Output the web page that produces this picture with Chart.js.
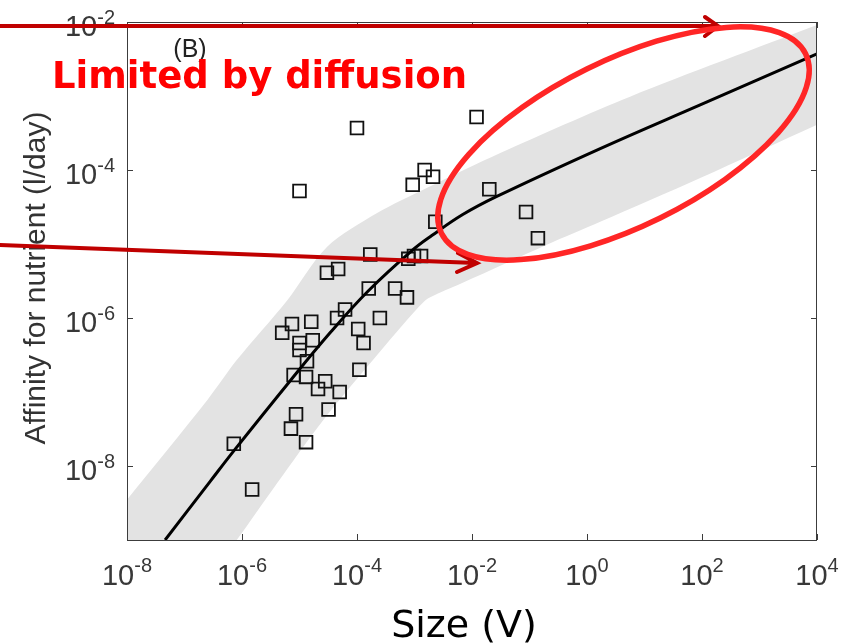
<!DOCTYPE html>
<html lang="en">
<head>
    <meta charset="UTF-8">
    <title>Affinity for nutrient vs size</title>
    <script src="https://cdn.jsdelivr.net/npm/chart.js"></script>
    <style>
        body { margin: 0; background: #fff; }
        .wrap { width: 851px; height: 643px; position: relative; }
    </style>
</head>
<body>
    <div class="wrap">
        <canvas id="affinityChart"></canvas>
    </div>

    <script>
        // tick decades (exponents of 10)
        const xTickExps = [-8, -6, -4, -2, 0, 2, 4];
        const yTickExps = [-8, -6, -4, -2];

        // observed species: size V and affinity (l/day)
        const sizeV = [1.0e-4, 1.2e-2, 1.0e-5, 1.5e-3, 2.1e-3, 9.3e-4, 2.0e-2, 8.7e-2, 0.14, 2.3e-3,
            1.7e-4, 7.8e-4, 9.8e-4, 1.3e-3, 3.0e-5, 4.7e-5, 1.6e-4, 4.6e-4, 7.4e-4, 2.5e-4,
            6.2e-5, 4.5e-5, 1.05e-4, 1.3e-4, 1.6e-5, 7.4e-6, 5.0e-6, 1.7e-5, 1.0e-5, 1.0e-5,
            1.35e-5, 7.9e-6, 1.3e-5, 1.1e-4, 2.8e-5, 2.1e-5, 5.0e-5, 3.2e-5, 8.7e-6, 7.1e-6,
            1.3e-5, 7.2e-7, 1.5e-6];
        const affinity = [3.7e-4, 5.2e-4, 5.2e-5, 1.0e-4, 8.1e-5, 6.3e-5, 5.5e-5, 2.7e-5, 1.2e-5, 2.0e-5,
            7.2e-6, 6.3e-6, 6.9e-6, 6.9e-6, 4.1e-6, 4.6e-6, 2.5e-6, 2.5e-6, 1.9e-6, 1.0e-6,
            1.3e-6, 1.0e-6, 7.1e-7, 4.6e-7, 8.9e-7, 8.3e-7, 6.3e-7, 5.0e-7, 4.6e-7, 3.7e-7,
            2.6e-7, 1.7e-7, 1.6e-7, 2.0e-7, 1.4e-7, 1.1e-7, 1.0e-7, 5.8e-8, 5.0e-8, 3.2e-8,
            2.1e-8, 2.0e-8, 4.8e-9];

        // model curve
        const curveV = [4.6e-8, 2.8e-7, 7.2e-7, 6.8e-6, 3.4e-5, 1.55e-4, 9.3e-4, 2.0e-3, 6.9e-3, 2.7e-2, 1.7, 93, 1e4];
        const curveA = [1.0e-9, 6.2e-9, 1.6e-8, 1.4e-7, 6.3e-7, 2.3e-6, 8.3e-6, 1.3e-5, 2.5e-5, 4.4e-5, 1.95e-4, 7.6e-4, 3.7e-3];

        // grey band around the model
        const bandUpV = [1e-8, 2.5e-7, 8.1e-7, 6.0e-6, 3.0e-5, 2.2e-4, 1.7e-3, 3.1e-2, 5.6, 1e4];
        const bandUpA = [3.5e-9, 7.8e-8, 2.7e-7, 1.7e-6, 9.1e-6, 2.6e-5, 5.8e-5, 1.7e-4, 9.8e-4, 9.1e-3];
        const bandLoV = [1e-8, 8.1e-7, 4.1e-6, 2.6e-5, 2.5e-4, 1.5e-3, 2.75e-3, 6.9e-3, 0.2, 1.7, 93, 1e4];
        const bandLoA = [1e-11, 1e-9, 5.9e-9, 4.2e-8, 3.5e-7, 1.7e-6, 2.2e-6, 3.0e-6, 9.8e-6, 2.0e-5, 7.8e-5, 4.1e-4];

        const pts = (xs, ys) => xs.map((v, i) => ({ x: v, y: ys[i] }));

        // frame, inward ticks, 10^n labels, titles and the red annotations
        const decor = {
            id: 'decor',
            afterDraw(chart) {
                const { ctx, chartArea: a, scales: { x, y } } = chart;
                ctx.save();
                ctx.strokeStyle = '#3c3c3c';
                ctx.lineWidth = 1;
                ctx.strokeRect(a.left + 0.5, a.top + 0.5, a.right - a.left - 1, a.bottom - a.top);

                ctx.beginPath();
                x.ticks.forEach(t => {
                    const px = Math.round(x.getPixelForValue(t.value)) + 0.5;
                    ctx.moveTo(px, a.bottom); ctx.lineTo(px, a.bottom - 6);
                    ctx.moveTo(px, a.top); ctx.lineTo(px, a.top + 6);
                });
                y.ticks.forEach(t => {
                    const py = Math.round(y.getPixelForValue(t.value)) + 0.5;
                    ctx.moveTo(a.left, py); ctx.lineTo(a.left + 6, py);
                    ctx.moveTo(a.right, py); ctx.lineTo(a.right - 6, py);
                });
                ctx.stroke();

                // tick labels with raised exponents
                const baseFont = '29px "Liberation Sans", Arial, sans-serif';
                const supFont = '20px "Liberation Sans", Arial, sans-serif';
                ctx.fillStyle = '#383838';
                ctx.textBaseline = 'alphabetic';
                ctx.textAlign = 'left';
                x.ticks.forEach(t => {
                    const px = x.getPixelForValue(t.value);
                    const sup = String(Math.round(Math.log10(t.value)));
                    ctx.font = baseFont; const wb = ctx.measureText('10').width;
                    ctx.font = supFont; const ws = ctx.measureText(sup).width;
                    const x0 = px - (wb + ws) / 2;
                    ctx.font = baseFont; ctx.fillText('10', x0, a.bottom + 45);
                    ctx.font = supFont; ctx.fillText(sup, x0 + wb, a.bottom + 32);
                });
                y.ticks.forEach(t => {
                    const py = y.getPixelForValue(t.value);
                    const sup = String(Math.round(Math.log10(t.value)));
                    ctx.font = supFont; const ws = ctx.measureText(sup).width;
                    const xr = a.left - 12;
                    ctx.font = baseFont; ctx.textAlign = 'right';
                    ctx.fillText('10', xr - ws, py + 14);
                    ctx.font = supFont; ctx.textAlign = 'left';
                    ctx.fillText(sup, xr - ws, py + 2);
                });

                // axis titles
                ctx.fillStyle = '#000';
                ctx.font = '38px "DejaVu Sans", Verdana, sans-serif';
                ctx.textAlign = 'center';
                ctx.fillText('Size (V)', 464, 637);

                ctx.save();
                ctx.translate(45, 278);
                ctx.rotate(-Math.PI / 2);
                ctx.fillStyle = '#333';
                ctx.font = '30px "Liberation Sans", Arial, sans-serif';
                ctx.fillText('Affinity for nutrient (l/day)', 0, 0);
                ctx.restore();

                ctx.fillStyle = '#222';
                ctx.font = '25px "Liberation Sans", Arial, sans-serif';
                ctx.fillText('(B)', 190, 57);

                // dark red arrows
                ctx.strokeStyle = '#c00000';
                ctx.lineWidth = 4;
                ctx.lineCap = 'round';
                ctx.beginPath();
                ctx.moveTo(0, 26); ctx.lineTo(717, 26);
                ctx.moveTo(705, 17); ctx.lineTo(718, 26); ctx.lineTo(705, 36);
                ctx.moveTo(0, 245); ctx.lineTo(476, 263);
                ctx.moveTo(458, 253); ctx.lineTo(477, 263); ctx.lineTo(457, 272);
                ctx.stroke();

                // ellipse around the diffusion-limited part
                ctx.strokeStyle = '#ff2626';
                ctx.lineWidth = 5.5;
                ctx.beginPath();
                ctx.ellipse(623.5, 143.5, 203, 83, -0.458, 0, Math.PI * 2);
                ctx.stroke();

                ctx.fillStyle = '#ff0000';
                ctx.font = 'bold 37px "DejaVu Sans", Verdana, sans-serif';
                ctx.textAlign = 'left';
                ctx.fillText('Limited by diffusion', 52, 88);
                ctx.restore();
            }
        };

        const ctx = document.getElementById('affinityChart').getContext('2d');
        new Chart(ctx, {
            type: 'line',
            data: {
                datasets: [
                    {
                        data: pts(bandUpV, bandUpA),
                        borderWidth: 0,
                        pointRadius: 0,
                        fill: '+1',
                        backgroundColor: '#e3e3e3',
                        tension: 0.3,
                        order: 3
                    },
                    {
                        data: pts(bandLoV, bandLoA),
                        borderWidth: 0,
                        pointRadius: 0,
                        fill: false,
                        tension: 0.3,
                        order: 4
                    },
                    {
                        data: pts(sizeV, affinity),
                        showLine: false,
                        pointStyle: 'rect',
                        pointRadius: 9,
                        pointBorderWidth: 1.8,
                        pointBorderColor: '#111',
                        pointBackgroundColor: 'rgba(0,0,0,0)',
                        order: 2
                    },
                    {
                        data: pts(curveV, curveA),
                        borderColor: '#000',
                        borderWidth: 3,
                        pointRadius: 0,
                        fill: false,
                        tension: 0.4,
                        order: 1
                    }
                ]
            },
            options: {
                responsive: true,
                maintainAspectRatio: false,
                animation: false,
                events: [],
                layout: { padding: { top: 22, right: 34, left: 0, bottom: 0 } },
                plugins: {
                    legend: { display: false },
                    tooltip: { enabled: false }
                },
                scales: {
                    x: {
                        type: 'logarithmic',
                        min: 1e-8,
                        max: 1e4,
                        afterBuildTicks: s => { s.ticks = xTickExps.map(e => ({ value: Math.pow(10, e) })); },
                        afterFit: s => { s.height = 103; },
                        ticks: { display: false },
                        grid: { display: false },
                        border: { display: false }
                    },
                    y: {
                        type: 'logarithmic',
                        min: 1e-9,
                        max: 1e-2,
                        afterBuildTicks: s => { s.ticks = yTickExps.map(e => ({ value: Math.pow(10, e) })); },
                        afterFit: s => { s.width = 127; },
                        ticks: { display: false },
                        grid: { display: false },
                        border: { display: false }
                    }
                }
            },
            plugins: [decor]
        });
    </script>
</body>
</html>
